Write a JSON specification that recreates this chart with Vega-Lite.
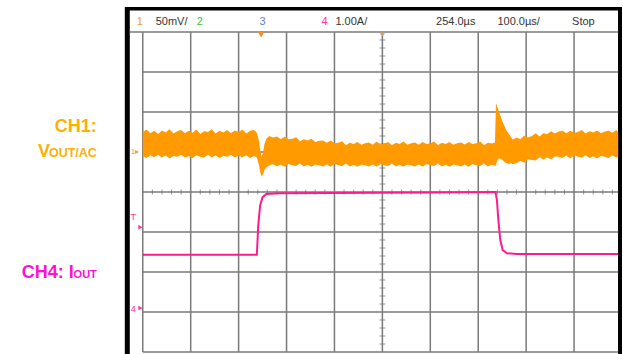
{
"$schema":"https://vega.github.io/schema/vega-lite/v6.json",
"width":623,"height":354,
"autosize":{"type":"fit","contains":"padding"},
"padding":0,
"background":"white",
"config":{"view":{"stroke":null}},
"datasets":{
"frame":[{"t":-37.5,"t2":1000,"v":8.625,"v2":-0.05,"f":"k"},{"t":-27.08,"t2":991.7,"v":8.54,"v2":-0.05,"f":"w"}],
"grid":[
{"t":0,"t2":0,"v":0,"v2":8},{"t":100,"t2":100,"v":0,"v2":8},{"t":200,"t2":200,"v":0,"v2":8},{"t":300,"t2":300,"v":0,"v2":8},{"t":400,"t2":400,"v":0,"v2":8},{"t":500,"t2":500,"v":0,"v2":8},{"t":600,"t2":600,"v":0,"v2":8},{"t":700,"t2":700,"v":0,"v2":8},{"t":800,"t2":800,"v":0,"v2":8},{"t":900,"t2":900,"v":0,"v2":8},
{"t":0,"t2":992,"v":0,"v2":0},{"t":0,"t2":992,"v":1,"v2":1},{"t":0,"t2":992,"v":2,"v2":2},{"t":0,"t2":992,"v":3,"v2":3},{"t":0,"t2":992,"v":4,"v2":4},{"t":0,"t2":992,"v":5,"v2":5},{"t":0,"t2":992,"v":6,"v2":6},{"t":0,"t2":992,"v":7,"v2":7},{"t":-27,"t2":992,"v":8,"v2":8}],
"vt":[{"t":500,"v":0.2},{"t":500,"v":0.4},{"t":500,"v":0.6},{"t":500,"v":0.8},{"t":500,"v":1.2},{"t":500,"v":1.4},{"t":500,"v":1.6},{"t":500,"v":1.8},{"t":500,"v":2.2},{"t":500,"v":2.4},{"t":500,"v":2.6},{"t":500,"v":2.8},{"t":500,"v":3.2},{"t":500,"v":3.4},{"t":500,"v":3.6},{"t":500,"v":3.8},{"t":500,"v":4.2},{"t":500,"v":4.4},{"t":500,"v":4.6},{"t":500,"v":4.8},{"t":500,"v":5.2},{"t":500,"v":5.4},{"t":500,"v":5.6},{"t":500,"v":5.8},{"t":500,"v":6.2},{"t":500,"v":6.4},{"t":500,"v":6.6},{"t":500,"v":6.8},{"t":500,"v":7.2},{"t":500,"v":7.4},{"t":500,"v":7.6},{"t":500,"v":7.8}],
"ht":[{"t":20,"v":4},{"t":40,"v":4},{"t":60,"v":4},{"t":80,"v":4},{"t":120,"v":4},{"t":140,"v":4},{"t":160,"v":4},{"t":180,"v":4},{"t":220,"v":4},{"t":240,"v":4},{"t":260,"v":4},{"t":280,"v":4},{"t":320,"v":4},{"t":340,"v":4},{"t":360,"v":4},{"t":380,"v":4},{"t":420,"v":4},{"t":440,"v":4},{"t":460,"v":4},{"t":480,"v":4},{"t":520,"v":4},{"t":540,"v":4},{"t":560,"v":4},{"t":580,"v":4},{"t":620,"v":4},{"t":640,"v":4},{"t":660,"v":4},{"t":680,"v":4},{"t":720,"v":4},{"t":740,"v":4},{"t":760,"v":4},{"t":780,"v":4},{"t":820,"v":4},{"t":840,"v":4},{"t":860,"v":4},{"t":880,"v":4},{"t":920,"v":4},{"t":940,"v":4},{"t":960,"v":4},{"t":980,"v":4}],
"band":[
{"t":0,"v":5.50,"v2":4.90},{"t":8,"v":5.56,"v2":4.85},{"t":16,"v":5.47,"v2":4.92},{"t":24,"v":5.53,"v2":4.87},{"t":32,"v":5.45,"v2":4.93},{"t":40,"v":5.54,"v2":4.86},{"t":48,"v":5.49,"v2":4.91},{"t":56,"v":5.57,"v2":4.84},{"t":64,"v":5.46,"v2":4.90},{"t":72,"v":5.52,"v2":4.88},{"t":80,"v":5.55,"v2":4.93},{"t":88,"v":5.47,"v2":4.86},{"t":96,"v":5.53,"v2":4.90},{"t":104,"v":5.48,"v2":4.85},{"t":112,"v":5.56,"v2":4.92},{"t":120,"v":5.45,"v2":4.88},{"t":128,"v":5.52,"v2":4.86},{"t":136,"v":5.50,"v2":4.93},{"t":144,"v":5.57,"v2":4.87},{"t":152,"v":5.46,"v2":4.91},{"t":160,"v":5.53,"v2":4.85},{"t":168,"v":5.49,"v2":4.90},{"t":176,"v":5.55,"v2":4.88},{"t":184,"v":5.47,"v2":4.93},{"t":192,"v":5.54,"v2":4.86},{"t":200,"v":5.50,"v2":4.91},{"t":208,"v":5.56,"v2":4.87},{"t":216,"v":5.46,"v2":4.92},{"t":224,"v":5.53,"v2":4.85},{"t":232,"v":5.55,"v2":4.90},{"t":238,"v":5.48,"v2":4.86},
{"t":242,"v":5.30,"v2":4.70},{"t":245,"v":5.05,"v2":4.50},{"t":248,"v":4.88,"v2":4.38},{"t":251,"v":5.00,"v2":4.45},{"t":254,"v":5.20,"v2":4.55},{"t":258,"v":5.33,"v2":4.62},{"t":264,"v":5.40,"v2":4.66},{"t":272,"v":5.36,"v2":4.70},
{"t":280,"v":5.39,"v2":4.64},{"t":288,"v":5.32,"v2":4.69},{"t":296,"v":5.38,"v2":4.63},{"t":304,"v":5.32,"v2":4.70},{"t":312,"v":5.33,"v2":4.67},{"t":320,"v":5.37,"v2":4.65},{"t":328,"v":5.27,"v2":4.71},{"t":336,"v":5.32,"v2":4.64},{"t":344,"v":5.29,"v2":4.68},{"t":352,"v":5.33,"v2":4.63},{"t":360,"v":5.25,"v2":4.69},{"t":368,"v":5.28,"v2":4.67},{"t":376,"v":5.29,"v2":4.64},{"t":384,"v":5.23,"v2":4.69},{"t":392,"v":5.29,"v2":4.63},{"t":400,"v":5.22,"v2":4.70},{"t":408,"v":5.23,"v2":4.67},{"t":416,"v":5.27,"v2":4.65},{"t":424,"v":5.17,"v2":4.71},{"t":432,"v":5.23,"v2":4.64},{"t":440,"v":5.20,"v2":4.68},{"t":448,"v":5.25,"v2":4.63},{"t":456,"v":5.18,"v2":4.69},{"t":464,"v":5.22,"v2":4.67},{"t":472,"v":5.24,"v2":4.64},{"t":480,"v":5.18,"v2":4.69},{"t":488,"v":5.26,"v2":4.63},{"t":496,"v":5.19,"v2":4.70},{"t":504,"v":5.21,"v2":4.67},{"t":512,"v":5.25,"v2":4.65},{"t":520,"v":5.17,"v2":4.71},{"t":528,"v":5.23,"v2":4.64},{"t":536,"v":5.20,"v2":4.68},{"t":544,"v":5.26,"v2":4.63},{"t":552,"v":5.18,"v2":4.69},{"t":560,"v":5.22,"v2":4.67},{"t":568,"v":5.24,"v2":4.64},{"t":576,"v":5.18,"v2":4.69},{"t":584,"v":5.25,"v2":4.63},{"t":592,"v":5.20,"v2":4.70},{"t":600,"v":5.21,"v2":4.67},{"t":608,"v":5.26,"v2":4.65},{"t":616,"v":5.17,"v2":4.71},{"t":624,"v":5.23,"v2":4.64},{"t":632,"v":5.20,"v2":4.68},{"t":640,"v":5.25,"v2":4.63},{"t":648,"v":5.18,"v2":4.69},{"t":656,"v":5.22,"v2":4.67},{"t":664,"v":5.24,"v2":4.64},{"t":672,"v":5.19,"v2":4.69},{"t":680,"v":5.25,"v2":4.63},{"t":688,"v":5.20,"v2":4.70},{"t":696,"v":5.22,"v2":4.67},{"t":704,"v":5.26,"v2":4.65},{"t":712,"v":5.17,"v2":4.71},{"t":720,"v":5.23,"v2":4.64},{"t":728,"v":5.21,"v2":4.68},{"t":735,"v":5.24,"v2":4.66},
{"t":737,"v":6.22,"v2":4.66},{"t":740,"v":6.12,"v2":4.80},{"t":744,"v":5.98,"v2":4.85},{"t":748,"v":5.85,"v2":4.82},{"t":752,"v":5.72,"v2":4.78},{"t":756,"v":5.62,"v2":4.74},{"t":760,"v":5.52,"v2":4.72},{"t":764,"v":5.45,"v2":4.70},{"t":768,"v":5.38,"v2":4.72},{"t":772,"v":5.31,"v2":4.70},
{"t":780,"v":5.36,"v2":4.72},{"t":788,"v":5.32,"v2":4.78},{"t":796,"v":5.41,"v2":4.73},{"t":804,"v":5.36,"v2":4.82},{"t":812,"v":5.40,"v2":4.80},{"t":820,"v":5.47,"v2":4.79},{"t":828,"v":5.39,"v2":4.87},{"t":836,"v":5.47,"v2":4.81},{"t":844,"v":5.45,"v2":4.86},{"t":852,"v":5.52,"v2":4.82},{"t":860,"v":5.46,"v2":4.89},{"t":868,"v":5.51,"v2":4.88},{"t":876,"v":5.53,"v2":4.85},{"t":884,"v":5.47,"v2":4.91},{"t":892,"v":5.53,"v2":4.84},{"t":900,"v":5.48,"v2":4.92},{"t":908,"v":5.50,"v2":4.88},{"t":916,"v":5.55,"v2":4.86},{"t":924,"v":5.46,"v2":4.92},{"t":932,"v":5.52,"v2":4.85},{"t":940,"v":5.49,"v2":4.89},{"t":948,"v":5.54,"v2":4.84},{"t":956,"v":5.47,"v2":4.90},{"t":964,"v":5.51,"v2":4.88},{"t":972,"v":5.53,"v2":4.85},{"t":980,"v":5.48,"v2":4.91},{"t":988,"v":5.55,"v2":4.86},{"t":992,"v":5.50,"v2":4.88}],
"cur":[{"t":0,"v":2.43},{"t":238,"v":2.43},{"t":241,"v":3.17},{"t":245,"v":3.67},{"t":250,"v":3.87},{"t":258,"v":3.95},{"t":285,"v":3.97},{"t":600,"v":3.99},{"t":736,"v":4.0},{"t":739,"v":3.8},{"t":742,"v":3.3},{"t":746,"v":2.8},{"t":751,"v":2.55},{"t":760,"v":2.47},{"t":780,"v":2.45},{"t":992,"v":2.45}],
"hdr":[{"t":-12.5,"v":8.175,"s":"1","ch":"1"},{"t":27,"v":8.175,"s":"50mV/","ch":"n"},{"t":112.5,"v":8.175,"s":"2","ch":"2"},{"t":243.75,"v":8.175,"s":"3","ch":"3"},{"t":372.9,"v":8.175,"s":"4","ch":"4"},{"t":402,"v":8.175,"s":"1.00A/","ch":"n"},{"t":612,"v":8.175,"s":"254.0µs","ch":"n"},{"t":740,"v":8.175,"s":"100.0µs/","ch":"n"},{"t":895.8,"v":8.175,"s":"Stop","ch":"n"}],
"lbl":[{"t":-95.83,"v":5.5,"s":"CH1:","ch":"1","k":"big"},{"t":-193.75,"v":4.875,"s":"V","ch":"1","k":"big"},{"t":-95.83,"v":4.875,"s":"OUT/AC","ch":"1","k":"small"},{"t":-143.75,"v":1.85,"s":"CH4: I","ch":"4","k":"big"},{"t":-95.83,"v":1.85,"s":"OUT","ch":"4","k":"small"}],
"mk":[{"t":-25,"v":4.95,"s":"1▸","ch":"1"},{"t":-20,"v":3.3,"s":"T","ch":"4"},{"t":-20,"v":1.0,"s":"4","ch":"4"}],
"pts":[{"t":247,"v":7.93,"k":"trig"},{"t":-5,"v":3.12,"k":"t4"},{"t":-5,"v":1.1,"k":"r4"},{"t":500,"v":7.95,"k":"c"}]
},
"encoding":{
"x":{"field":"t","type":"quantitative","scale":{"domain":[-297.917,1000],"nice":false,"zero":false},"axis":null},
"y":{"field":"v","type":"quantitative","scale":{"domain":[-0.05,8.8],"nice":false,"zero":false},"axis":null}
},
"layer":[
{"data":{"name":"frame"},"transform":[{"filter":"datum.f=='k'"}],"mark":{"type":"rect","color":"#000000"},"encoding":{"x2":{"field":"t2"},"y2":{"field":"v2"}}},
{"data":{"name":"frame"},"transform":[{"filter":"datum.f=='w'"}],"mark":{"type":"rect","color":"#ffffff"},"encoding":{"x2":{"field":"t2"},"y2":{"field":"v2"}}},
{"data":{"name":"grid"},"mark":{"type":"rule","color":"#7a7a7a","strokeWidth":1.5},"encoding":{"x2":{"field":"t2"},"y2":{"field":"v2"}}},
{"data":{"name":"vt"},"mark":{"type":"tick","orient":"horizontal","size":6,"thickness":1,"color":"#6a6a6a"},"encoding":{}},
{"data":{"name":"ht"},"mark":{"type":"tick","orient":"vertical","size":5,"thickness":1,"color":"#6a6a6a"},"encoding":{}},
{"data":{"name":"band"},"mark":{"type":"area","color":"#ff9a00","opacity":1,"interpolate":"linear"},"encoding":{"y2":{"field":"v2"}}},
{"data":{"name":"cur"},"mark":{"type":"line","color":"#ff1a8c","strokeWidth":2},"encoding":{}},
{"data":{"name":"hdr"},"mark":{"type":"text","align":"left","baseline":"alphabetic","font":"Liberation Sans","fontSize":11},"encoding":{"text":{"field":"s"},"color":{"field":"ch","type":"nominal","scale":{"domain":["1","2","3","4","n"],"range":["#f0a030","#3cba3c","#5b7fd6","#ff3399","#333333"]},"legend":null}}},
{"data":{"name":"lbl"},"transform":[{"filter":"datum.ch=='1' && datum.k=='big'"}],"mark":{"type":"text","align":"right","baseline":"alphabetic","font":"Liberation Sans","fontWeight":"bold","fontSize":18,"color":"#ffb000"},"encoding":{"text":{"field":"s"}}},
{"data":{"name":"lbl"},"transform":[{"filter":"datum.ch=='1' && datum.k=='small'"}],"mark":{"type":"text","align":"right","baseline":"alphabetic","font":"Liberation Sans","fontWeight":"bold","fontSize":12.5,"color":"#ffb000"},"encoding":{"text":{"field":"s"}}},
{"data":{"name":"lbl"},"transform":[{"filter":"datum.ch=='4' && datum.k=='big'"}],"mark":{"type":"text","align":"right","baseline":"alphabetic","font":"Liberation Sans","fontWeight":"bold","fontSize":18,"color":"#ff10d0"},"encoding":{"text":{"field":"s"}}},
{"data":{"name":"lbl"},"transform":[{"filter":"datum.ch=='4' && datum.k=='small'"}],"mark":{"type":"text","align":"right","baseline":"alphabetic","font":"Liberation Sans","fontWeight":"bold","fontSize":11,"color":"#ff10d0"},"encoding":{"text":{"field":"s"}}},
{"data":{"name":"mk"},"transform":[{"filter":"datum.ch=='1'"}],"mark":{"type":"text","align":"left","baseline":"alphabetic","font":"Liberation Sans","fontSize":8,"color":"#d8a050"},"encoding":{"text":{"field":"s"}}},
{"data":{"name":"mk"},"transform":[{"filter":"datum.ch=='4'"}],"mark":{"type":"text","align":"center","baseline":"alphabetic","font":"Liberation Sans","fontSize":9,"color":"#ff3399"},"encoding":{"text":{"field":"s"}}},
{"data":{"name":"pts"},"transform":[{"filter":"datum.k=='trig'"}],"mark":{"type":"point","shape":"triangle-down","filled":true,"size":40,"color":"#f0902a","opacity":1},"encoding":{}},
{"data":{"name":"pts"},"transform":[{"filter":"datum.k=='t4' || datum.k=='r4'"}],"mark":{"type":"point","shape":"triangle-right","filled":true,"size":22,"color":"#ff3399","opacity":1},"encoding":{}},
{"data":{"name":"pts"},"transform":[{"filter":"datum.k=='c'"}],"mark":{"type":"point","shape":"cross","filled":true,"size":18,"color":"#c8a070","opacity":1},"encoding":{}}
]
}
